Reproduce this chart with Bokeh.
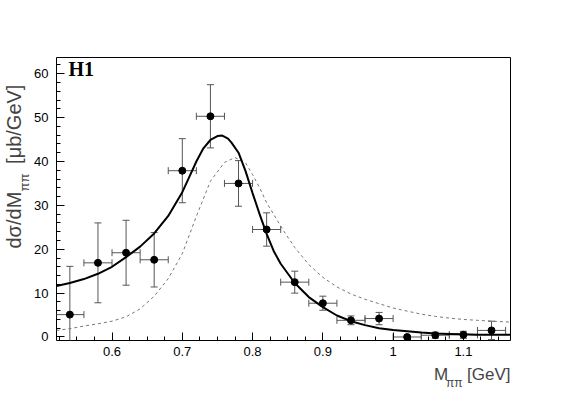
from math import pi
from bokeh.plotting import figure
from bokeh.models import ColumnDataSource, Whisker, TeeHead, FixedTicker, Label, Range1d
from bokeh.embed import file_html
from bokeh.resources import INLINE

# ---- data ----
mass = [0.54, 0.58, 0.62, 0.66, 0.70, 0.74, 0.78, 0.82, 0.86, 0.90, 0.94, 0.98, 1.02, 1.06, 1.10, 1.14]
xsec = [5.1, 16.9, 19.2, 17.6, 37.9, 50.3, 35.0, 24.5, 12.5, 7.7, 3.8, 4.2, 0.0, 0.4, 0.5, 1.5]
xsec_err = [11.0, 9.1, 7.4, 6.2, 7.3, 7.2, 5.2, 3.8, 2.5, 1.6, 1.0, 1.4, 0.3, 0.7, 0.8, 2.1]
bin_half = [0.02] * 16

fit_mass = [0.521, 0.54, 0.56, 0.58, 0.60, 0.62, 0.64, 0.66, 0.68, 0.70, 0.71, 0.72, 0.73, 0.74,
            0.75, 0.757, 0.765, 0.77, 0.78, 0.79, 0.80, 0.81, 0.82, 0.83, 0.84, 0.86, 0.88, 0.90,
            0.92, 0.94, 0.96, 0.98, 1.00, 1.02, 1.04, 1.06, 1.08, 1.10, 1.12, 1.14, 1.167]
fit_xsec = [11.6, 12.3, 13.2, 14.4, 16.0, 18.2, 20.6, 23.6, 27.6, 33.0, 36.5, 40.0, 43.0, 44.9,
            45.8, 45.9, 45.2, 44.3, 42.0, 37.8, 32.8, 28.0, 23.5, 19.6, 16.7, 12.3, 9.1, 6.8,
            4.9, 3.6, 2.7, 2.0, 1.6, 1.3, 1.0, 0.8, 0.7, 0.6, 0.5, 0.5, 0.5]

bw_mass = [0.521, 0.54, 0.56, 0.58, 0.60, 0.62, 0.64, 0.66, 0.68, 0.70, 0.72, 0.74, 0.76, 0.775,
           0.79, 0.80, 0.81, 0.82, 0.835, 0.845, 0.86, 0.88, 0.90, 0.92, 0.94, 0.96, 0.98, 1.00,
           1.02, 1.04, 1.06, 1.08, 1.10, 1.12, 1.14, 1.167]
bw_xsec = [1.5, 1.9, 2.5, 3.0, 3.6, 4.6, 6.4, 9.3, 13.3, 19.0, 27.5, 35.5, 39.8, 40.9,
           39.7, 37.0, 34.0, 30.6, 26.6, 24.0, 20.4, 16.5, 13.6, 11.4, 9.8, 8.6, 7.6, 6.6,
           5.9, 5.2, 4.7, 4.3, 4.0, 3.8, 3.6, 3.4]

x_ticks = [0.6, 0.7, 0.8, 0.9, 1.0, 1.1]
x_tick_labels = ["0.6", "0.7", "0.8", "0.9", "1", "1.1"]
y_ticks = [0, 10, 20, 30, 40, 50, 60]

FONT = "Liberation Sans"
NB = "\u00a0"

src = ColumnDataSource(dict(
    x=mass, y=xsec,
    ylo=[v - e for v, e in zip(xsec, xsec_err)],
    yhi=[v + e for v, e in zip(xsec, xsec_err)],
    xlo=[m - h for m, h in zip(mass, bin_half)],
    xhi=[m + h for m, h in zip(mass, bin_half)],
))

p = figure(width=565, height=395, output_backend="svg", toolbar_location=None,
           x_range=Range1d(0.521, 1.167), y_range=Range1d(-0.8, 63.7),
           min_border_left=56, min_border_right=55, min_border_top=57, min_border_bottom=55)
p.background_fill_color = "white"
p.border_fill_color = "white"
p.outline_line_color = "black"
p.outline_line_width = 1
p.xgrid.visible = False
p.ygrid.visible = False

# curves
p.line(bw_mass, bw_xsec, line_color="#777777", line_width=1, line_dash="3 3")
p.line(fit_mass, fit_xsec, line_color="black", line_width=2)

# error bars
err_col = "#555555"
def tee():
    return TeeHead(size=7, line_color=err_col, line_width=1)
p.add_layout(Whisker(source=src, base="x", lower="ylo", upper="yhi", dimension="height",
                     line_color=err_col, line_width=1, lower_head=tee(), upper_head=tee()))
p.add_layout(Whisker(source=src, base="y", lower="xlo", upper="xhi", dimension="width",
                     line_color=err_col, line_width=1, lower_head=tee(), upper_head=tee()))

p.scatter("x", "y", source=src, size=7, fill_color="black", line_color="black")

# axes
xa = p.xaxis[0]
xa.ticker = FixedTicker(ticks=x_ticks, minor_ticks=[0.525 + 0.025 * i for i in range(26)])
xa.major_label_overrides = {t: l for t, l in zip(x_ticks, x_tick_labels)}
ya = p.yaxis[0]
ya.ticker = FixedTicker(ticks=y_ticks, minor_ticks=[2 * i for i in range(32)])
for ax in (xa, ya):
    ax.axis_line_color = None
    ax.major_tick_in = 8
    ax.major_tick_out = 0
    ax.minor_tick_in = 4
    ax.minor_tick_out = 0
    ax.major_tick_line_color = "black"
    ax.minor_tick_line_color = "black"
    ax.major_label_text_font = FONT
    ax.major_label_text_font_size = "13px"
    ax.major_label_text_color = "black"
xa.major_label_standoff = 6
ya.major_label_standoff = 8

# H1 tag (inside the frame)
p.add_layout(Label(x=12, y=261, x_units="screen", y_units="screen", text="H1",
                   text_font="Liberation Serif", text_font_style="bold",
                   text_font_size="20px", text_color="black"))

# y-axis title  dσ/dM_ππ [μb/GeV]  (main part in the left panel, subscript in the top panel)
p.add_layout(Label(x=4, y=92, x_units="screen", y_units="screen",
                   text="dσ/dM" + NB * 5 + "[μb/GeV]",
                   angle=pi / 2, text_font=FONT, text_font_size="20px",
                   text_baseline="alphabetic", text_align="left"), "left")
p.add_layout(Label(x=-32, y=-134, x_units="screen", y_units="screen", text="ππ",
                   angle=pi / 2, text_font=FONT, text_font_size="13px",
                   text_baseline="alphabetic", text_align="left"), "above")

# x-axis title  M_ππ [GeV]  (main part in the bottom panel, subscript in the right panel)
p.add_layout(Label(x=454, y=3, x_units="screen", y_units="screen",
                   text="M" + NB * 4 + "[GeV]",
                   text_font=FONT, text_font_size="17px",
                   text_baseline="alphabetic", text_align="right"), "below")
p.add_layout(Label(x=-48, y=-42, x_units="screen", y_units="screen", text="ππ",
                   text_font=FONT, text_font_size="12px",
                   text_baseline="alphabetic", text_align="right"), "right")

open("out.html", "w").write(file_html(p, INLINE))
